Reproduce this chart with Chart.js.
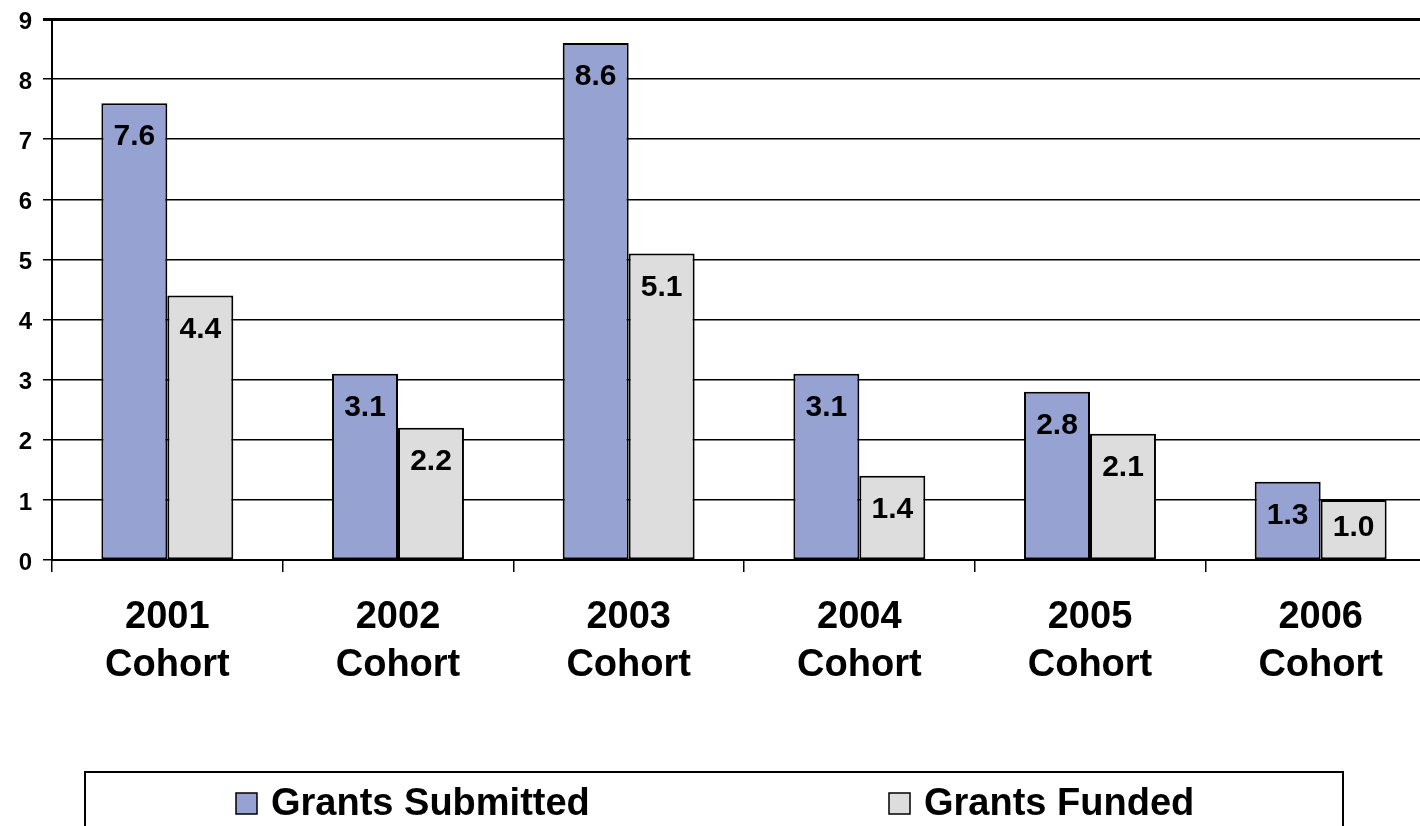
<!DOCTYPE html>
<html>
<head>
<meta charset="utf-8">
<title>Grants by Cohort</title>
<script src="https://cdn.jsdelivr.net/npm/chart.js@4/dist/chart.umd.min.js"></script>
<style>
  html, body { margin: 0; padding: 0; background: #fff; overflow: hidden; }
  body { width: 1420px; height: 826px; }
  canvas { display: block; }
</style>
</head>
<body>
<canvas id="chart" width="1436" height="826"></canvas>
<script>
// chart data
const cohortYears = ['2001', '2002', '2003', '2004', '2005', '2006']
const submitted = [7.6, 3.1, 8.6, 3.1, 2.8, 1.3]
const funded = [4.4, 2.2, 5.1, 1.4, 2.1, 1.0]
const yTicks = [0, 1, 2, 3, 4, 5, 6, 7, 8, 9]

const FONT = '"Liberation Sans", Arial, sans-serif'

// value labels inside the top of each bar
const barLabels = {
    id: 'barLabels',
    afterDatasetsDraw(chart) {
        const ctx = chart.ctx
        ctx.save()
        ctx.font = 'bold 30px ' + FONT
        ctx.fillStyle = '#000'
        ctx.textAlign = 'center'
        ctx.textBaseline = 'middle'
        chart.data.datasets.forEach((ds, i) => {
            chart.getDatasetMeta(i).data.forEach((bar, j) => {
                const h = bar.base - bar.y
                let y = bar.y + 34
                if (h < 70) y = (bar.y + bar.base) / 2 - 2
                ctx.fillText(ds.data[j].toFixed(1), bar.x, y)
            })
        })
        ctx.restore()
    }
}

// boxed legend at the bottom
const boxLegend = {
    id: 'boxLegend',
    afterDraw(chart) {
        const ctx = chart.ctx
        ctx.save()
        ctx.strokeStyle = '#000'
        ctx.lineWidth = 2
        ctx.strokeRect(85, 772, 1258, 120)
        const itemX = [236, 889]
        ctx.font = 'bold 38px ' + FONT
        ctx.textBaseline = 'middle'
        ctx.textAlign = 'left'
        chart.data.datasets.forEach((ds, i) => {
            const x = itemX[i]
            ctx.fillStyle = ds.backgroundColor
            ctx.fillRect(x, 793, 21, 21)
            ctx.lineWidth = 1.5
            ctx.strokeRect(x, 793, 21, 21)
            ctx.fillStyle = '#000'
            ctx.fillText(ds.label, x + 35, 805)
        })
        ctx.restore()
    }
}

const chart = new Chart(document.getElementById('chart'), {
    type: 'bar',
    data: {
        labels: cohortYears.map(y => [y, 'Cohort']),
        datasets: [{
            label: 'Grants Submitted',
            data: submitted,
            backgroundColor: '#96a3d2',
            borderColor: '#000',
            borderWidth: 2,
            borderSkipped: false,
            categoryPercentage: 0.572,
            barPercentage: 1
        }, {
            label: 'Grants Funded',
            data: funded,
            backgroundColor: '#dddddd',
            borderColor: '#000',
            borderWidth: 2,
            borderSkipped: false,
            categoryPercentage: 0.572,
            barPercentage: 1
        }]
    },
    options: {
        responsive: false,
        animation: false,
        layout: { padding: { top: 19, right: 0, bottom: 136, left: 0 } },
        plugins: {
            legend: { display: false },
            tooltip: { enabled: false }
        },
        scales: {
            x: {
                afterFit: (scale) => { scale.height = 130 },
                grid: {
                    offset: true,
                    drawOnChartArea: false,
                    drawTicks: true,
                    tickLength: 12,
                    color: '#000',
                    lineWidth: 1.5
                },
                border: { display: true, color: '#000', width: 2 },
                ticks: {
                    color: '#000',
                    padding: 21,
                    font: { family: FONT, size: 38, weight: 'bold', lineHeight: 1.28 }
                }
            },
            y: {
                min: yTicks[0],
                max: yTicks[yTicks.length - 1],
                afterFit: (scale) => {
                    scale.width = 52
                    scale.paddingTop = 0
                    scale.paddingBottom = 0
                },
                afterBuildTicks: (scale) => { scale.ticks = yTicks.map(v => ({ value: v })) },
                grid: {
                    color: '#000',
                    lineWidth: (ctx) => ctx.tick && ctx.tick.value === 9 ? 3 : 1.5,
                    tickLength: 9
                },
                border: { display: true, color: '#000', width: 2 },
                ticks: {
                    color: '#000',
                    padding: 11,
                    labelOffset: 3,
                    font: { family: FONT, size: 24, weight: 'bold' }
                }
            }
        }
    },
    plugins: [barLabels, boxLegend]
})
</script>
</body>
</html>
